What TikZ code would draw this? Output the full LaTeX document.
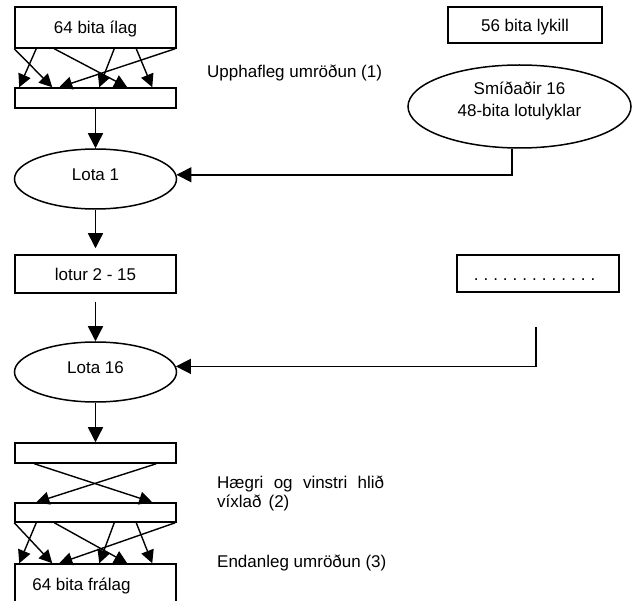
\documentclass[tikz,border=0pt]{standalone}
\usepackage{fontspec}
\setmainfont{Liberation Sans}
\usetikzlibrary{arrows.meta,shapes.geometric,calc}
\begin{document}
\begin{tikzpicture}[x=1pt,y=-1pt,
  every node/.style={font=\fontsize{17}{21.5}\selectfont},
  box/.style={draw,line width=1.5pt,rectangle,inner sep=0pt,minimum width=161pt,text height=12.3pt,text depth=0pt},
  oval/.style={draw,line width=1.5pt,ellipse,inner sep=0pt,minimum width=162pt,minimum height=60pt,text height=12.3pt,text depth=8.3pt},
  arr/.style={line width=1.5pt,-{Triangle[length=15pt,width=15pt]}},
  sarr/.style={line width=1.4pt,-{Triangle[length=13pt,width=13pt]}},
  lbl/.style={anchor=base west,inner sep=0pt}]
\useasboundingbox (0,0) rectangle (632,601);
\clip (0,0) rectangle (632,601);
% left column
\node[box,minimum height=41pt] (in) at (95.5,27.5) {64 bita ílag};
\node[box,minimum height=20pt] (p1) at (95.5,98) {};
\node[oval] (lota1) at (95.5,179) {Lota 1};
\node[box,minimum height=38pt] (lotur) at (95.5,274) {lotur 2 - 15};
\node[oval] (lota16) at (95.5,372) {Lota 16};
\node[box,minimum height=20pt] (p2) at (95.5,453) {};
\node[box,minimum height=19pt] (p3) at (95.5,512.5) {};
\node[box,minimum height=60pt] (out) at (95.5,594) {};
\node[anchor=base,inner sep=0pt] (outtxt) at (81.5,590) {64 bita frálag};
% right column
\node[box,minimum width=154pt,minimum height=36pt] (key) at (525,25) {56 bita lykill};
\node[oval,minimum width=223pt,minimum height=83pt] (keygen) at (519.5,106.5) {};
\node[align=center,inner sep=0pt] (keytxt) at (519.5,101) {Smíðaðir 16\\48-bita lotulyklar};
\node[box,minimum width=162pt,minimum height=37pt] (dots) at (538,273.5) {};
\node[anchor=base,inner sep=0pt] (dotstxt) at (534.5,281) {\frenchspacing\spaceskip=5pt\relax . . . . . . . . . . . . .};
% labels
\node[lbl] (l1) at (207,78) {Upphafleg umröðun (1)};
\node[lbl] (l2a) at (217,488) {\makebox[167pt][s]{Hægri og vinstri hlið}};
\node[lbl] (l2b) at (217,507) {víxlað\hspace{7pt}(2)};
\node[lbl] (l3) at (217,567) {Endanleg umröðun (3)};
% main flow
\draw[arr] (p1) -- (lota1);
\draw[arr,shorten >=6pt] (lota1) -- (lotur);
\draw[arr,shorten <=8pt] (lotur) -- (lota16);
\draw[arr] (lota16) -- (p2);
% key schedule
\coordinate (k1) at (512,0);
\draw[arr] (keygen.south -| k1) |- (lota1.3.6);
\coordinate (k2) at (536,327);
\draw[arr] (k2) |- (lota16.4.3);
% permutations
\foreach \s/\t in {0/38, 22/5, 40/113, 100/85, 161/45, 122/138} {
  \draw[sarr] ($(in.south west)+(\s,0)$) -- ($(p1.north west)+(\t,0)$);
  \draw[sarr] ($(p3.south west)+(\s,0)$) -- ($(out.north west)+(\t,0)$);
}
% swap
\draw[sarr] ($(p2.south west)+(20,0)$) -- ($(p3.north west)+(138,0)$);
\draw[sarr] ($(p2.south west)+(142,0)$) -- ($(p3.north west)+(22,0)$);
\end{tikzpicture}
\end{document}
